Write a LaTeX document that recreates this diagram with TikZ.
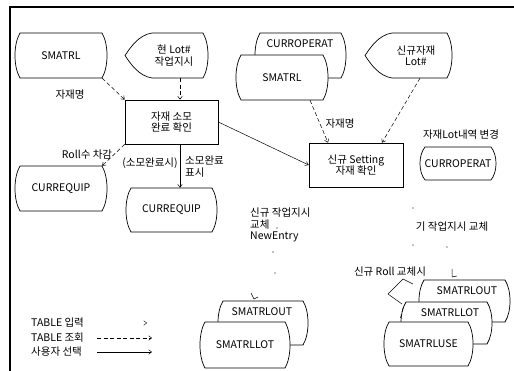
\documentclass[tikz,border=0pt]{standalone}
\usepackage{fontspec}
\setmainfont{Noto Sans CJK KR}
\usetikzlibrary{arrows.meta,calc}
\newcommand\storsh[6]{%
  \draw[shp] ({#2+5},#3) -- ({#4-5},#3)
    .. controls ({#4+1.7},{#3+0.25*(#5-#3)}) and ({#4+1.7},{#5-0.25*(#5-#3)}) .. ({#4-5},#5)
    -- ({#2+5},#5)
    .. controls ({#2-1.7},{#5-0.25*(#5-#3)}) and ({#2-1.7},{#3+0.25*(#5-#3)}) .. cycle;
  \node[inner sep=0pt, minimum width={(#4-#2-10)*1pt}, minimum height={(#5-#3)*1pt}]
    (#1) at ({(#2+#4)/2},{(#3+#5)/2}) {#6};
}
\newcommand\dispsh[6]{%
  \draw[shp] ({#2+27},#3) -- ({#4-5},#3)
    .. controls ({#4+1.7},{#3+0.25*(#5-#3)}) and ({#4+1.7},{#5-0.25*(#5-#3)}) .. ({#4-5},#5)
    -- ({#2+27},#5)
    .. controls ({#2+14},{#5-2}) and ({#2+6},{#5-0.3*(#5-#3)}) .. (#2,{(#3+#5)/2})
    .. controls ({#2+6},{#3+0.3*(#5-#3)}) and ({#2+14},{#3+2}) .. cycle;
  \node[inner sep=0pt, align=center, minimum width={(#4-#2-25)*1pt}, minimum height={(#5-#3)*1pt}]
    (#1) at ({(#2+20+#4-5)/2},{(#3+#5)/2}) {#6};
}
\begin{document}
\begin{tikzpicture}[x=1pt,y=-1pt,
  font=\fontsize{10.5}{11.5}\selectfont,
  shp/.style={draw, fill=white, line width=0.7pt},
  boxst/.style={draw, line width=0.7pt, minimum width=#1, minimum height=44pt, align=center, inner sep=0pt},
  tip/.style={-{Straight Barb[length=3pt,width=4.5pt]}},
  dsh/.style={line width=0.5pt, dash pattern=on 4pt off 2.5pt},
  sol/.style={line width=0.5pt},
  lbl/.style={inner sep=0pt, align=left},
  dotst/.style={fill=black, inner sep=0pt, minimum size=1.2pt, circle}]
\useasboundingbox (0,0) rectangle (514,371);
% frame
\draw[line width=1.3pt] (10,371) -- (10,7) -- (514,7);

% top-left
\storsh{smatrlA}{15}{33}{107}{78}{SMATRL}
\dispsh{lotA}{125}{33}{208}{78}{현 Lot\#\\작업지시}
\node[boxst=93pt] (box1) at (171.5,122) {자재 소모\\완료 확인};

% top-right stack
\storsh{curropB}{255}{33}{346}{78}{}
\node[lbl] (curropBt) at (300,44) {CURROPERAT};
\storsh{smatrlB}{236}{55}{328}{100}{SMATRL}
\dispsh{lotB}{365}{33}{452}{78}{신규자재\\Lot\#}
\node[boxst=94pt] (setting) at (356,165) {신규 Setting\\자재 확인};

% curr equip
\storsh{curreqA}{15}{166}{107}{211}{CURREQUIP}
\storsh{curreqB}{126}{188}{217}{232}{CURREQUIP}

% curroperat right
\node[lbl] (lotchg) at (461,135) {자재Lot내역 변경};
\storsh{curropC}{420}{147}{496}{180}{CURROPERAT}

% connectors
\draw[dsh,tip] (smatrlA.south east) -- (box1.north west);
\draw[dsh,tip] ([xshift=6pt]lotA.south) -- ([xshift=6pt]lotA.south |- box1.north);
\draw[sol,tip] (box1.east) -- (setting.west);
\draw[dsh,tip] (box1.south west) -- (curreqA.north east);
\draw[sol,tip] ([xshift=8.5pt]box1.south) -- ([xshift=8.5pt]box1.south |- curreqB.north);
\draw[dsh,tip] ([xshift=28pt]smatrlB.south) -- ([xshift=-28pt]setting.north);
\draw[dsh,tip] ([xshift=4pt]lotB.south) -- ([xshift=26pt]setting.north);

% labels
\node[lbl] (l1) at (70,95) {자재명};
\node[lbl] (l2) at (87,155) {Roll수 차감};
\node[lbl] (l3) at (150,163) {(소모완료시)};
\node[lbl, anchor=north west] (l4) at (185,156) {소모완료\\표시};
\node[lbl] (l5) at (340,124) {자재명};
\node[lbl, anchor=north west] (l6) at (250,208) {신규 작업지시\\교체\\NewEntry};
\node[lbl] (l7) at (452,227) {기 작업지시 교체};
\node[lbl] (l8) at (390,272) {신규 Roll 교체시};

% stray dots
\node[dotst] (d1) at (413,208) {};
\node[dotst] (d2) at (413,245) {};
\node[dotst] (d3) at (277,228) {};
\node[dotst] (d4) at (273,252) {};
\node[dotst] (d5) at (275,273) {};
\node[dotst] (d6) at (447,247) {};

% bottom-middle stack
\storsh{outM}{218}{301}{308}{345}{}
\node[lbl] (outMt) at (262,312) {SMATRLOUT};
\storsh{lotM}{200}{322}{290}{368}{SMATRLLOT}
\coordinate (mkA1) at (251,293);
\coordinate (mkA2) at (254,299);
\coordinate (mkA3) at (258,297);
\draw[sol] (mkA1) -- (mkA2) -- (mkA3);

% bottom-right stack
\storsh{outR}{419}{280}{510}{322}{}
\node[lbl] (outRt) at (467,291) {SMATRLOUT};
\storsh{lotR}{401}{302}{492}{344}{}
\node[lbl] (lotRt) at (450,313) {SMATRLLOT};
\storsh{useR}{384}{322}{473}{366}{SMATRLUSE}
\coordinate (mkB1) at (452,269);
\coordinate (mkB2) at (452,277);
\coordinate (mkB3) at (457,276);
\draw[sol] (mkB1) -- (mkB2) -- (mkB3);
\coordinate (cr1) at (413,284);
\coordinate (cr2) at (403,279);
\coordinate (cr3) at (388,294);
\coordinate (cr4) at (402,304);
\coordinate (cr5) at (403,308);
\coordinate (cr6) at (400,320);
\draw[sol] (cr1) -- (cr2) -- (cr3) -- (cr4);
\draw[dsh] (cr5) -- (cr6);

% legend
\node[lbl, anchor=west] (lg1) at (31,323) {TABLE 입력};
\node[lbl, anchor=west] (lg2) at (31,338) {TABLE 조회};
\node[lbl, anchor=west] (lg3) at (31,352) {사용자 선택};
\coordinate (lg1a) at (144,323);
\coordinate (lg1b) at (147,323);
\coordinate (lg2a) at (97,338);
\coordinate (lg2b) at (152,338);
\coordinate (lg3a) at (97,352);
\coordinate (lg3b) at (152,352);
\draw[white, -{Straight Barb[length=3pt,width=4.5pt,black]}] (lg1a) -- (lg1b);
\draw[dsh,tip] (lg2a) -- (lg2b);
\draw[sol,tip] (lg3a) -- (lg3b);
\end{tikzpicture}
\end{document}
